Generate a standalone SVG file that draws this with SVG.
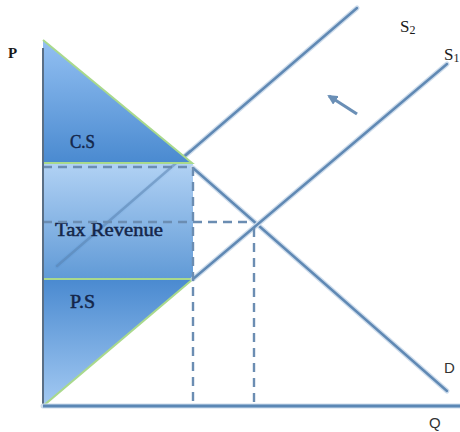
<svg xmlns="http://www.w3.org/2000/svg" width="460" height="432" viewBox="0 0 460 432">
  <defs>
    <linearGradient id="gCS" x1="0" y1="0" x2="0" y2="1">
      <stop offset="0" stop-color="#93c0f2"/>
      <stop offset="1" stop-color="#4a8ad0"/>
    </linearGradient>
    <linearGradient id="gTax" x1="0" y1="0" x2="0" y2="1">
      <stop offset="0" stop-color="#a9cdf3"/>
      <stop offset="1" stop-color="#4f8fd2"/>
    </linearGradient>
    <linearGradient id="gPS" x1="0" y1="0" x2="0" y2="1">
      <stop offset="0" stop-color="#4a8ad0"/>
      <stop offset="1" stop-color="#a3c9f2"/>
    </linearGradient>
    <marker id="ah" viewBox="0 0 10 10" refX="8" refY="5" markerWidth="3.2" markerHeight="3.2" orient="auto">
      <path d="M0,0 L10,5 L0,10 Z" fill="#6a8fb6"/>
    </marker>
  </defs>
  <style>
    .halo { stroke: #cddcec; stroke-width: 5; fill: none; stroke-linecap: round; }
    .ln { stroke: #6089b4; stroke-width: 2.4; fill: none; stroke-linecap: round; }
    .dash { stroke: #6b8db2; stroke-width: 2.4; fill: none; stroke-dasharray: 9 6; }
    .edge { stroke: #a9d98c; stroke-width: 2; fill: none; }
    .lab { font-family: "Liberation Serif", "Times New Roman", serif; fill: #14264a; stroke: #14264a; stroke-width: 0.45; }
    .ax { font-family: "Liberation Serif", "Times New Roman", serif; fill: #1a1a1a; }
    .sans { font-family: "Liberation Sans", Arial, sans-serif; fill: #333; }
  </style>
  <rect width="460" height="432" fill="#ffffff"/>

  <g id="connectors">
    <!-- S2 (partly covered by areas) -->
    <line class="halo" x1="57" y1="266" x2="357" y2="8"/>
    <line class="ln" x1="57" y1="266" x2="357" y2="8"/>
  </g>

  <g id="tax-revenue">
    <rect x="43" y="163" width="150" height="116" fill="url(#gTax)" fill-opacity="0.9"/>
    <line class="ln" x1="57" y1="266" x2="190" y2="151" stroke-opacity="0.55"/>
    <text class="lab" x="55" y="236" font-size="18" textLength="108" lengthAdjust="spacingAndGlyphs">Tax Revenue</text>
  </g>

  <g id="consumer-surplus">
    <path d="M43,40 L192,163 L43,163 Z" fill="url(#gCS)"/>
    <path class="edge" d="M43,40 L192,163 L43,163"/>
    <text class="lab" x="70" y="148" font-size="18" textLength="25" lengthAdjust="spacingAndGlyphs">C.S</text>
  </g>

  <g id="producer-surplus">
    <path d="M43,279 L193,279 L43,406 Z" fill="url(#gPS)"/>
    <path class="edge" d="M43,279 L193,279 L43,406 Z"/>
    <text class="lab" x="70" y="308" font-size="18" textLength="25" lengthAdjust="spacingAndGlyphs">P.S</text>
  </g>

  <g id="lines">
    <!-- demand D -->
    <line class="halo" x1="193" y1="168" x2="447" y2="391"/>
    <line class="ln" x1="193" y1="168" x2="447" y2="391"/>
    <!-- supply S1 -->
    <line class="halo" x1="193" y1="279" x2="447" y2="64"/>
    <line class="ln" x1="193" y1="279" x2="447" y2="64"/>
    <!-- dashed guides -->
    <line class="dash" x1="43" y1="167" x2="193" y2="167"/>
    <line class="dash" x1="193" y1="167" x2="193" y2="404"/>
    <line class="dash" x1="43" y1="222" x2="250" y2="222"/>
    <line class="dash" x1="254" y1="228" x2="254" y2="404"/>
    <!-- axes -->
    <line x1="43" y1="48" x2="43" y2="406" stroke="#5a6f86" stroke-width="2"/>
    <line class="halo" x1="43" y1="406" x2="460" y2="406"/>
    <line x1="43" y1="406" x2="460" y2="406" stroke="#5b87b5" stroke-width="3"/>
    <!-- shift arrow -->
    <line x1="357" y1="114" x2="329" y2="96" stroke="#6a8fb6" stroke-width="3.2" marker-end="url(#ah)"/>
  </g>

  <g id="labels">
    <text class="ax" x="8" y="58" font-size="15" font-weight="bold">P</text>
    <text class="ax" x="400" y="32" font-size="17">S<tspan font-size="12" dy="2">2</tspan></text>
    <text class="ax" x="444" y="60" font-size="17">S<tspan font-size="12" dy="2">1</tspan></text>
    <text class="sans" x="444" y="373" font-size="15">D</text>
    <text class="sans" x="429" y="428" font-size="15">Q</text>
  </g>
</svg>
